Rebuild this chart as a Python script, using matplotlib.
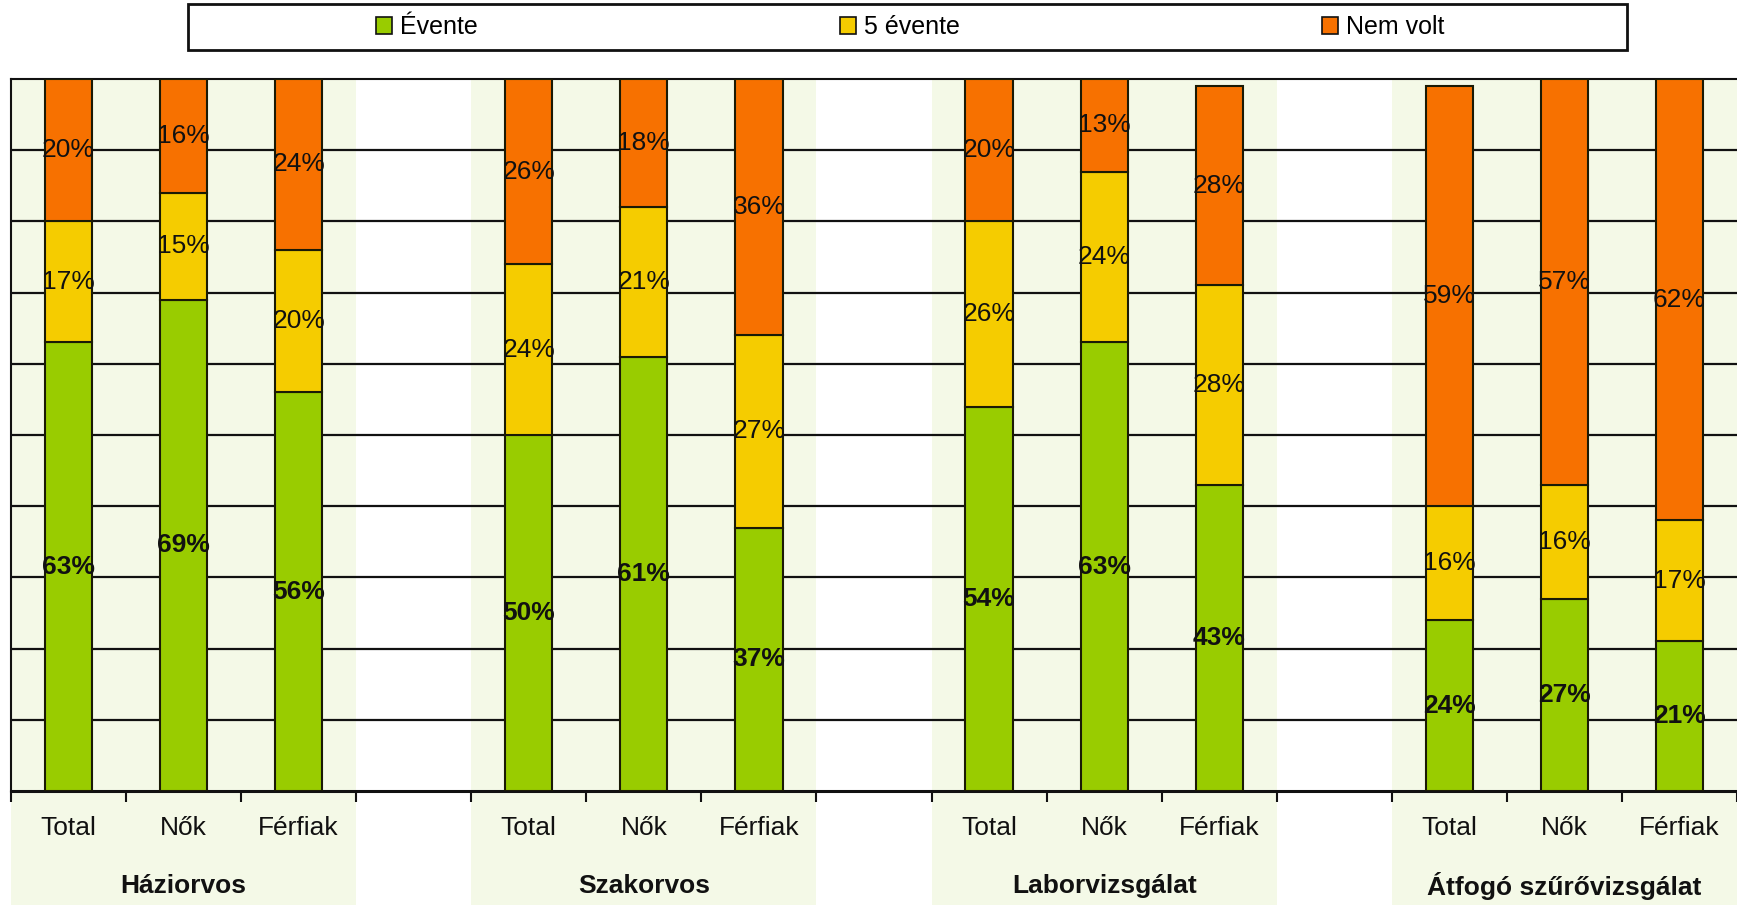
import matplotlib
matplotlib.use("Agg")
import matplotlib.pyplot as plt
from matplotlib.patches import Patch, Rectangle
import numpy as np

plt.rcParams['font.family'] = ['Liberation Sans', 'DejaVu Sans']

groups = ['Háziorvos', 'Szakorvos', 'Laborvizsgálat', 'Átfogó szűrővizsgálat']
subcats = ['Total', 'Nők', 'Férfiak']
series = ['Évente', '5 évente', 'Nem volt']

# values per group: Total, Nők, Férfiak
evente = [63, 69, 56, 50, 61, 37, 54, 63, 43, 24, 27, 21]
ot_evente = [17, 15, 20, 24, 21, 27, 26, 24, 28, 16, 16, 17]
nem_volt = [20, 16, 24, 26, 18, 36, 20, 13, 28, 59, 57, 62]

colors = ['#99CC00', '#F5CC00', '#F77100']
shade = '#F4F9E7'
edge = '#1A1A05'

# slot positions: 3 bars per group + one empty slot between groups
xpos = []
for g in range(len(groups)):
    for s in range(len(subcats)):
        xpos.append(g * 4 + s)
xpos = np.array(xpos)
nslots = 4 * len(groups) - 1

fig = plt.figure(figsize=(17.37, 9.05), dpi=100)
ax = fig.add_axes([11 / 1737, (905 - 791) / 905, 1 - 11 / 1737, (791 - 79) / 905])

ax.set_xlim(-0.5, nslots - 0.5)
ax.set_ylim(0, 100)

# shaded group backgrounds, running down under the labels
for g in range(len(groups)):
    ax.axvspan(g * 4 - 0.5, g * 4 + 2.5, ymin=-0.17, ymax=1.0, color=shade,
               zorder=0, clip_on=False, lw=0)

for y in range(10, 100, 10):
    ax.axhline(y, color='#111111', lw=1.6, zorder=1)

w = 0.41
bottom = np.zeros(len(xpos))
for vals, col, name in zip([evente, ot_evente, nem_volt], colors, series):
    vals = np.array(vals)
    ax.bar(xpos, vals, w, bottom=bottom, color=col, edgecolor=edge, lw=1.5,
           zorder=3, label=name)
    for x, b, v in zip(xpos, bottom, vals):
        ax.text(x, b + v / 2, f'{v}%', ha='center', va='center', fontsize=19,
                color='#111111', zorder=4,
                fontweight='bold' if name == 'Évente' else 'normal')
    bottom = bottom + vals

# ticks at slot boundaries
ax.set_xticks(np.arange(-0.5, nslots + 0.5, 1))
ax.set_xticklabels([])
ax.tick_params(axis='x', length=8, width=1.5, color='#111111')
ax.set_yticks([])
for side in ['top', 'left', 'right']:
    ax.spines[side].set_color('#111111')
    ax.spines[side].set_linewidth(1.5)
ax.spines['right'].set_visible(False)
ax.spines['bottom'].set_linewidth(2.2)
ax.spines['bottom'].set_color('#111111')

for x, i in zip(xpos, range(len(xpos))):
    ax.text(x, -0.052, subcats[i % 3], transform=ax.get_xaxis_transform(),
            ha='center', va='center', fontsize=19, color='#111111')
for g, name in enumerate(groups):
    ax.text(g * 4 + 1, -0.134, name, transform=ax.get_xaxis_transform(),
            ha='center', va='center', fontsize=19, fontweight='bold', color='#111111')

# legend box
fig.patches.append(Rectangle((188 / 1737, 1 - 50 / 905), (1627 - 188) / 1737, 46 / 905,
                             transform=fig.transFigure, fill=False,
                             edgecolor='#111111', lw=2))
handles = [Patch(facecolor=c, edgecolor='#111111', lw=1.2) for c in colors]
fig.legend(handles, series, loc='center', bbox_to_anchor=(910 / 1737, 1 - 27 / 905),
           ncol=3, frameon=False, fontsize=18, handlelength=0.65, handleheight=0.65,
           handletextpad=0.3, columnspacing=14.5, borderpad=0)

fig.savefig('out.png', dpi=100)
